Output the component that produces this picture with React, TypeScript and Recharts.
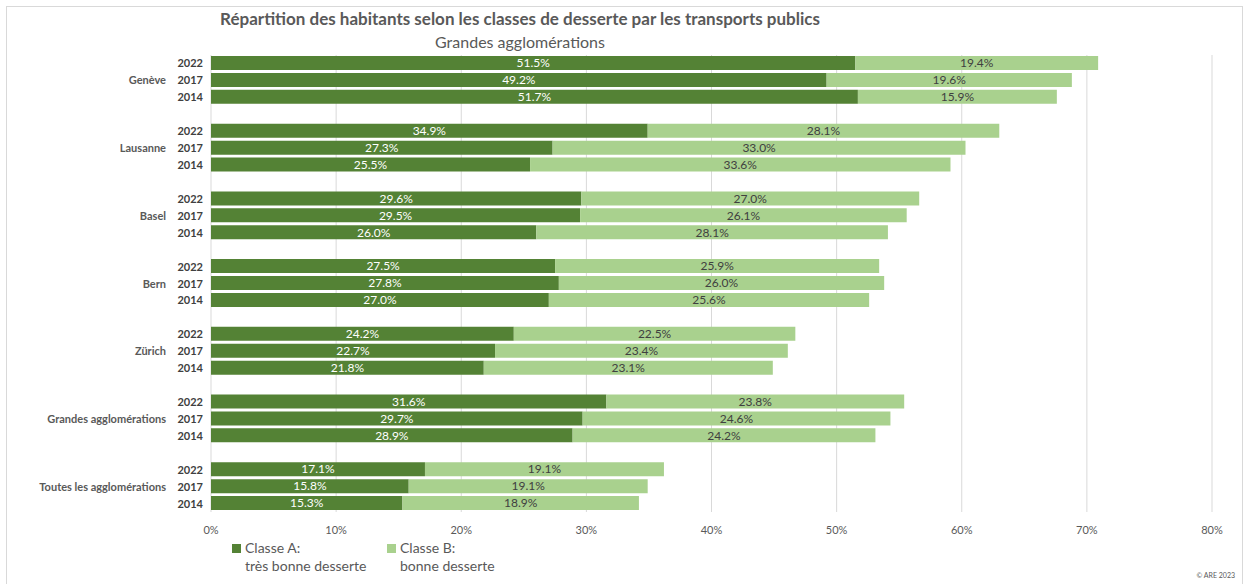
import React from 'react';
import { BarChart, Bar, XAxis, YAxis, CartesianGrid, LabelList } from 'recharts';

const groups = ['Genève', 'Lausanne', 'Basel', 'Bern', 'Zürich', 'Grandes agglomérations', 'Toutes les agglomérations'];
const years = ['2022', '2017', '2014'];
const classeA = [
  [51.5, 49.2, 51.7],
  [34.9, 27.3, 25.5],
  [29.6, 29.5, 26.0],
  [27.5, 27.8, 27.0],
  [24.2, 22.7, 21.8],
  [31.6, 29.7, 28.9],
  [17.1, 15.8, 15.3],
];
const classeB = [
  [19.4, 19.6, 15.9],
  [28.1, 33.0, 33.6],
  [27.0, 26.1, 28.1],
  [25.9, 26.0, 25.6],
  [22.5, 23.4, 23.1],
  [23.8, 24.6, 24.2],
  [19.1, 19.1, 18.9],
];
const xTicks = [0, 10, 20, 30, 40, 50, 60, 70, 80];

const DARK = '#548235';
const LIGHT = '#A9D18E';
const FONT = 'Lato, "Open Sans", sans-serif';

type Row = { key: string; group?: string; year?: string; a?: number; b?: number };
const rows: Row[] = [];
groups.forEach((g, gi) => {
  if (gi > 0) rows.push({ key: `sp${gi}` });
  years.forEach((y, yi) => {
    rows.push({ key: `${g}|${y}`, group: g, year: y, a: classeA[gi][yi], b: classeB[gi][yi] });
  });
});

const YTick = (props: any) => {
  const { x, y, payload } = props;
  const v: string = payload.value;
  if (!v.includes('|')) return <g />;
  const [g, yr] = v.split('|');
  return (
    <g>
      <text x={x} y={y} dy={4} textAnchor="end" fontSize={11} fontWeight={700} fill="#404040" fontFamily={FONT}>{yr}</text>
      {yr === '2017' && (
        <text x={x - 37} y={y} dy={4} textAnchor="end" fontSize={11} fontWeight={700} fill="#595959" fontFamily={FONT}>{g}</text>
      )}
    </g>
  );
};

const XTick = (props: any) => {
  const { x, y, payload } = props;
  return (
    <text x={x} y={y} dy={14} textAnchor="middle" fontSize={11} fill="#595959" fontFamily={FONT}>{`${payload.value}%`}</text>
  );
};

const fmt = (v: any) => (typeof v === 'number' ? `${v.toFixed(1)}%` : '');

export default function App() {
  return (
    <div style={{ position: 'absolute', left: 0, top: 0, width: 1253, height: 584, background: '#fff', fontFamily: FONT }}>
      <div style={{ position: 'absolute', left: 6, top: 6, width: 1237, height: 580, border: '1px solid #d9d9d9', boxSizing: 'border-box' }} />
      <div style={{ position: 'absolute', left: 0, width: 1040, top: 8, textAlign: 'center', fontSize: 17, fontWeight: 700, color: '#595959' }}>
        Répartition des habitants selon les classes de desserte par les transports publics
      </div>
      <div style={{ position: 'absolute', left: 0, width: 1040, top: 32, textAlign: 'center', fontSize: 16, color: '#595959' }}>
        Grandes agglomérations
      </div>
      <div style={{ position: 'absolute', left: 0, top: 0 }}>
        <BarChart
          width={1253}
          height={584}
          data={rows}
          layout="vertical"
          margin={{ top: 55, right: 41, bottom: 52, left: 9 }}
          barSize={14}
        >
          <CartesianGrid horizontal={false} stroke="#d9d9d9" />
          <XAxis
            type="number"
            domain={[0, 80]}
            ticks={xTicks}
            axisLine={false}
            tickLine={false}
            tick={<XTick />}
            height={20}
            interval={0}
          />
          <YAxis
            type="category"
            dataKey="key"
            width={202}
            axisLine={false}
            tickLine={false}
            tick={<YTick />}
            interval={0}
          />
          <Bar dataKey="a" stackId="s" fill={DARK} isAnimationActive={false}>
            <LabelList dataKey="a" position="center" formatter={fmt} fill="#ffffff" fontSize={12} fontFamily={FONT} />
          </Bar>
          <Bar dataKey="b" stackId="s" fill={LIGHT} isAnimationActive={false}>
            <LabelList dataKey="b" position="center" formatter={fmt} fill="#404040" fontSize={12} fontFamily={FONT} />
          </Bar>
        </BarChart>
      </div>
      <div style={{ position: 'absolute', left: 232, top: 539, fontSize: 14, color: '#595959', lineHeight: '18px' }}>
        <span style={{ display: 'inline-block', width: 9, height: 9, background: DARK, marginRight: 4 }} />Classe A:
        <br />
        <span style={{ marginLeft: 13 }}>très bonne desserte</span>
      </div>
      <div style={{ position: 'absolute', left: 387, top: 539, fontSize: 14, color: '#595959', lineHeight: '18px' }}>
        <span style={{ display: 'inline-block', width: 9, height: 9, background: LIGHT, marginRight: 4 }} />Classe B:
        <br />
        <span style={{ marginLeft: 13 }}>bonne desserte</span>
      </div>
      <div style={{ position: 'absolute', right: 18, top: 571, fontSize: 7, color: '#595959' }}>© ARE 2023</div>
    </div>
  );
}
